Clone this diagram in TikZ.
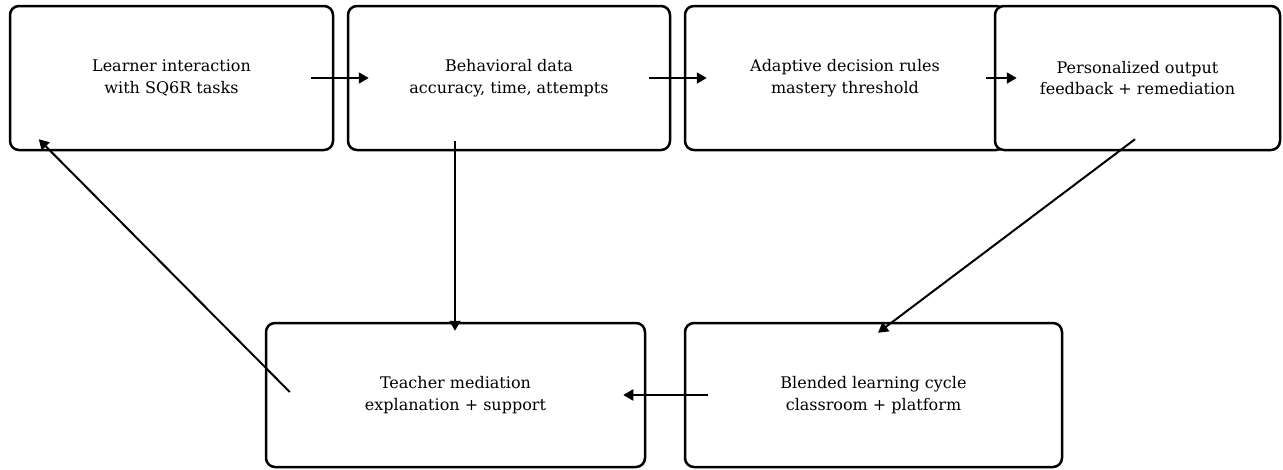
\documentclass[tikz,border=0pt]{standalone}
\usepackage{fontspec}
\setmainfont{DejaVu Serif}
\usetikzlibrary{arrows.meta, calc}

\begin{document}
\begin{tikzpicture}[
  x=1pt, y=-1pt,
  stage/.style={rectangle,draw=black,line width=2.5pt,rounded corners=9pt,fill=white, align=center,font=\fontsize{16}{21.5}\selectfont,minimum height=144pt,inner sep=0pt},
  flow/.style={-{Triangle[length=10pt,width=11pt]},line width=2pt,black}
]
  \useasboundingbox (0,0) rectangle (1283,469);
  % top row
  \node[stage, minimum width=323pt](learner) at (171.5,78) {Learner interaction\\with SQ6R tasks};
  \node[stage, minimum width=322pt](behav) at (509,78) {Behavioral data\\accuracy, time, attempts};
  \node[stage, minimum width=320pt](rules) at (845,78) {Adaptive decision rules\\mastery threshold};
  \node[stage, minimum width=285pt](output) at (1137.5,78) {Personalized output\\feedback + remediation};
  % bottom row
  \node[stage, minimum width=379pt](teacher) at (455.5,395) {Teacher mediation\\explanation + support};
  \node[stage, minimum width=377pt](blended) at (873.5,395) {Blended learning cycle\\classroom + platform};

  \draw[flow]([xshift=-23pt]learner.east) -- ([xshift=22pt]behav.west);
  \draw[flow]([xshift=-22pt]behav.east) -- ([xshift=23pt]rules.west);
  \draw[flow]([xshift=-20pt]rules.east) -- ([xshift=23pt]output.west);
  \draw[flow]([shift={(-0.5,-10)}]teacher.north |- behav.south) -- ([shift={(-0.5,9)}]teacher.north);
  \draw[flow]([shift={(-2.5,-12)}]output.south) -- ([shift={(4.5,11)}]blended.north);
  \draw[flow]([xshift=24pt]blended.west) -- ([xshift=-23pt]teacher.east);
  \draw[flow]([shift={(25,-3)}]teacher.west) -- ([shift={(30,-12)}]learner.south west);
\end{tikzpicture}
\end{document}
